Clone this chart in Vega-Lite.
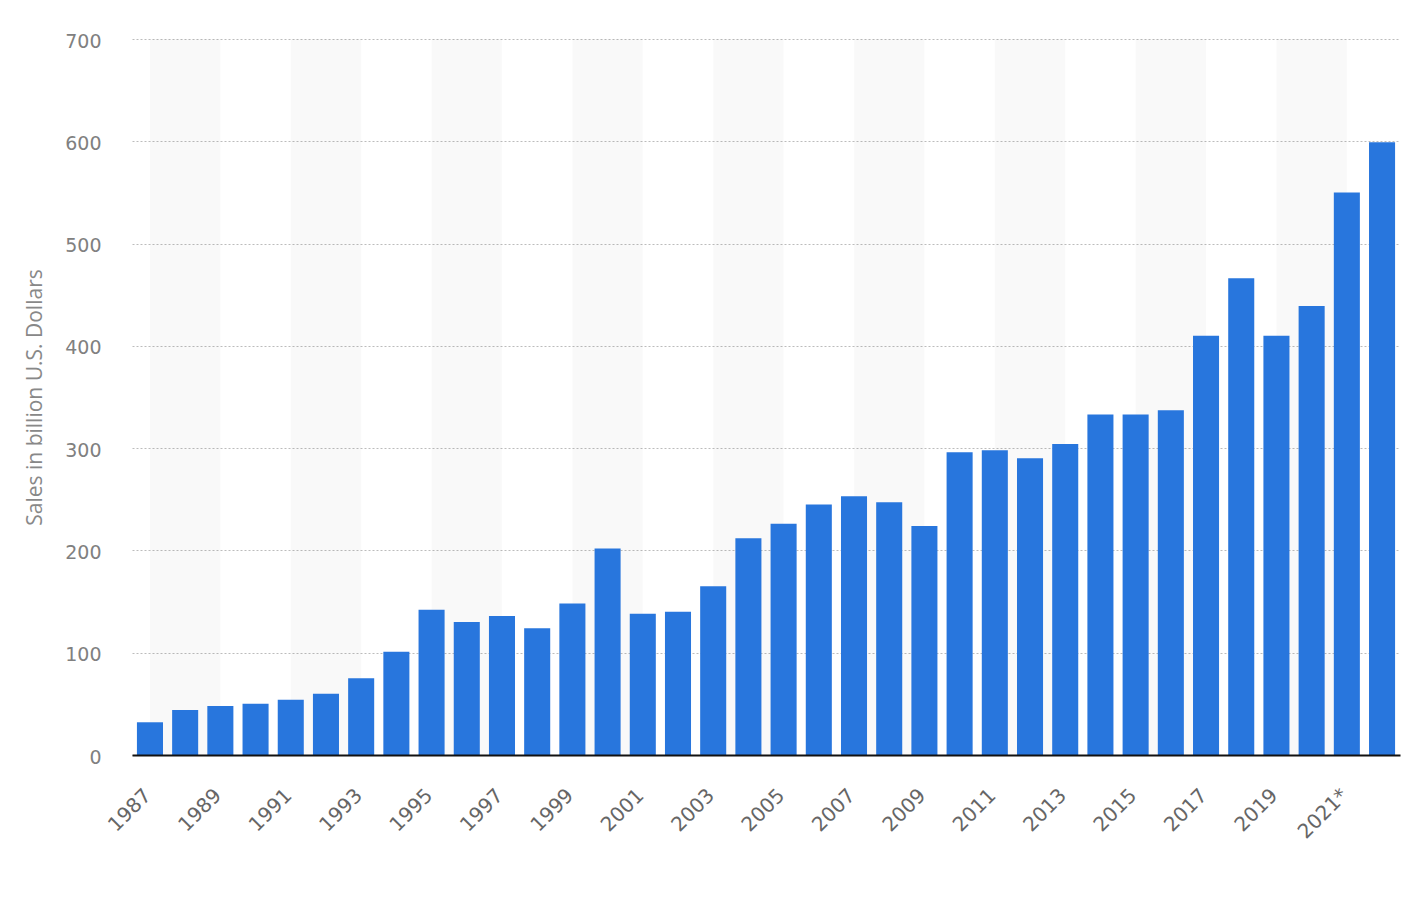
{
  "$schema": "https://vega.github.io/schema/vega-lite/v6.json",
  "width": 1268,
  "height": 716,
  "autosize": {"type": "none"},
  "padding": {"left": 132, "top": 39, "right": 12, "bottom": 145},
  "background": "white",
  "config": {
    "view": {"stroke": null},
    "font": "DejaVu Sans"
  },
  "layer": [
    {
      "data": {
        "values": [
          {"start": "1987", "end": "1989"},
          {"start": "1991", "end": "1993"},
          {"start": "1995", "end": "1997"},
          {"start": "1999", "end": "2001"},
          {"start": "2003", "end": "2005"},
          {"start": "2007", "end": "2009"},
          {"start": "2011", "end": "2013"},
          {"start": "2015", "end": "2017"},
          {"start": "2019", "end": "2021*"}
        ]
      },
      "mark": {"type": "rect", "color": "#000000", "opacity": 0.025},
      "encoding": {
        "x": {"field": "start", "type": "ordinal", "bandPosition": 0.5},
        "x2": {"field": "end", "bandPosition": 0.5},
        "y": {"value": 0},
        "y2": {"value": 716}
      }
    },
    {
      "data": {
        "values": [
          {"year": "1987", "sales": 32},
          {"year": "1988", "sales": 44},
          {"year": "1989", "sales": 48},
          {"year": "1990", "sales": 50},
          {"year": "1991", "sales": 54},
          {"year": "1992", "sales": 60},
          {"year": "1993", "sales": 75},
          {"year": "1994", "sales": 101},
          {"year": "1995", "sales": 142},
          {"year": "1996", "sales": 130},
          {"year": "1997", "sales": 136},
          {"year": "1998", "sales": 124},
          {"year": "1999", "sales": 148},
          {"year": "2000", "sales": 202},
          {"year": "2001", "sales": 138},
          {"year": "2002", "sales": 140},
          {"year": "2003", "sales": 165},
          {"year": "2004", "sales": 212},
          {"year": "2005", "sales": 226},
          {"year": "2006", "sales": 245},
          {"year": "2007", "sales": 253},
          {"year": "2008", "sales": 247},
          {"year": "2009", "sales": 224},
          {"year": "2010", "sales": 296},
          {"year": "2011", "sales": 298},
          {"year": "2012", "sales": 290},
          {"year": "2013", "sales": 304},
          {"year": "2014", "sales": 333},
          {"year": "2015", "sales": 333},
          {"year": "2016", "sales": 337},
          {"year": "2017", "sales": 410},
          {"year": "2018", "sales": 466},
          {"year": "2019", "sales": 410},
          {"year": "2020", "sales": 439},
          {"year": "2021*", "sales": 550},
          {"year": "2022*", "sales": 599}
        ]
      },
      "mark": {"type": "bar", "color": "#2876dd"},
      "encoding": {
        "x": {
          "field": "year",
          "type": "ordinal",
          "title": null,
          "scale": {"paddingInner": 0.26, "paddingOuter": 0.14},
          "axis": {
            "values": ["1987", "1989", "1991", "1993", "1995", "1997", "1999", "2001", "2003", "2005", "2007", "2009", "2011", "2013", "2015", "2017", "2019", "2021*"],
            "labelAngle": -45,
            "labelAlign": "right",
            "labelBaseline": "middle",
            "labelFontSize": 20,
            "labelColor": "#666666",
            "labelPadding": 37,
            "labelOffset": -2,
            "ticks": false,
            "domainColor": "#111111",
            "domainWidth": 2,
            "grid": false
          }
        },
        "y": {
          "field": "sales",
          "type": "quantitative",
          "title": "Sales in billion U.S. Dollars",
          "scale": {"domain": [0, 700], "nice": false},
          "axis": {
            "values": [0, 100, 200, 300, 400, 500, 600, 700],
            "domain": false,
            "ticks": false,
            "labelFontSize": 19,
            "labelColor": "#808080",
            "labelPadding": 31,
            "labelOffset": 2,
            "gridColor": "#bcbcbc",
            "gridDash": [2, 2],
            "gridWidth": 1,
            "titleFont": "Open Sans",
            "titleFontSize": 21,
            "titleFontWeight": "normal",
            "titleColor": "#888888",
            "titlePadding": 19
          }
        }
      }
    }
  ]
}
